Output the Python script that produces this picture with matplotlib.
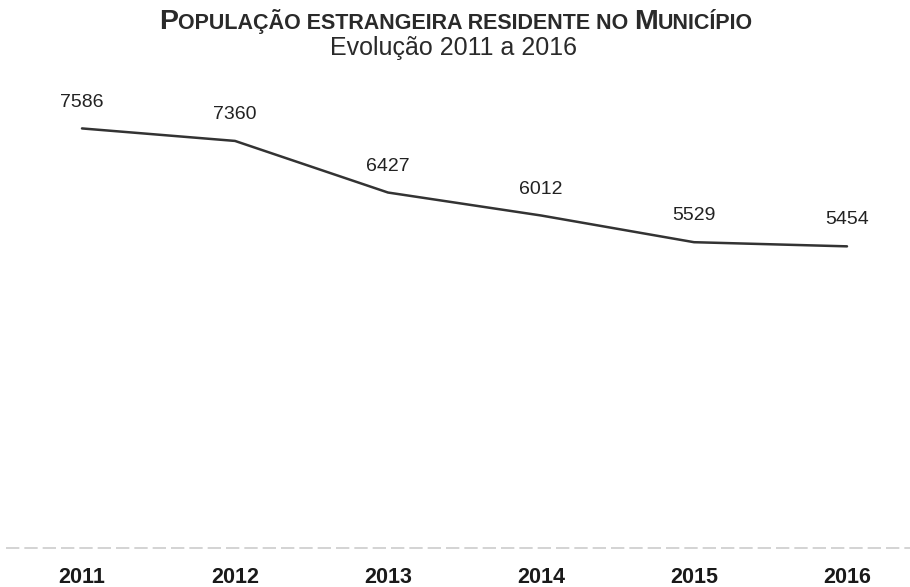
import numpy as np
import matplotlib.pyplot as plt

# Données
anos = ["2011", "2012", "2013", "2014", "2015", "2016"]
populacao = [7586, 7360, 6427, 6012, 5529, 5454]

plt.rcParams['font.family'] = ['Liberation Sans', 'DejaVu Sans']

fig = plt.figure(figsize=(9.1, 5.87), dpi=100)
W, H = 910, 587
# axe : base y=548 px, haut y=100 px ; catégories espacées de 153 px
ax = fig.add_axes([5.5 / W, (H - 548) / H, 918 / W, 448 / H])
x = np.arange(len(anos))
ax.plot(x, populacao, color='#333333', linewidth=1.8, solid_capstyle='round')
ax.set_xlim(-0.5, len(anos) - 0.5)
ax.set_ylim(0, 8100)

for xi, v in zip(x, populacao):
    ax.annotate(str(v), (xi, v), xytext=(0, 19), textcoords='offset points',
                ha='center', va='center', fontsize=14, color='#222222')

ax.set_xticks(x)
ax.set_xticklabels(anos, fontsize=15.5, fontweight='bold', color='#1a1a1a')
ax.tick_params(axis='x', length=0, pad=14)
ax.set_yticks([])
for s in ax.spines.values():
    s.set_visible(False)
ax.axhline(0, color='#cccccc', linewidth=1.2, linestyle=(0, (8, 3)), clip_on=False)

# Titre en petites capitales
pieces = [("P", 20.5), ("OPULAÇÃO ESTRANGEIRA RESIDENTE NO ", 15.5), ("M", 20.5), ("UNICÍPIO", 15.5)]
fig.canvas.draw()
r = fig.canvas.get_renderer()
textos = []
for t, fs in pieces:
    tx = fig.text(0, 1 - 29 / H, t, fontsize=fs, fontweight='bold', color='#2a2a2a',
                  ha='left', va='baseline')
    textos.append(tx)
larguras = [tx.get_window_extent(r).width for tx in textos]
total = sum(larguras)
xpos = (456 - total / 2)
for tx, w in zip(textos, larguras):
    tx.set_x(xpos / W)
    xpos += w

fig.text(453 / W, 1 - 55 / H, "Evolução 2011 a 2016", fontsize=18, color='#2a2a2a',
         ha='center', va='baseline')

fig.savefig("out.png", dpi=100, facecolor='white')
